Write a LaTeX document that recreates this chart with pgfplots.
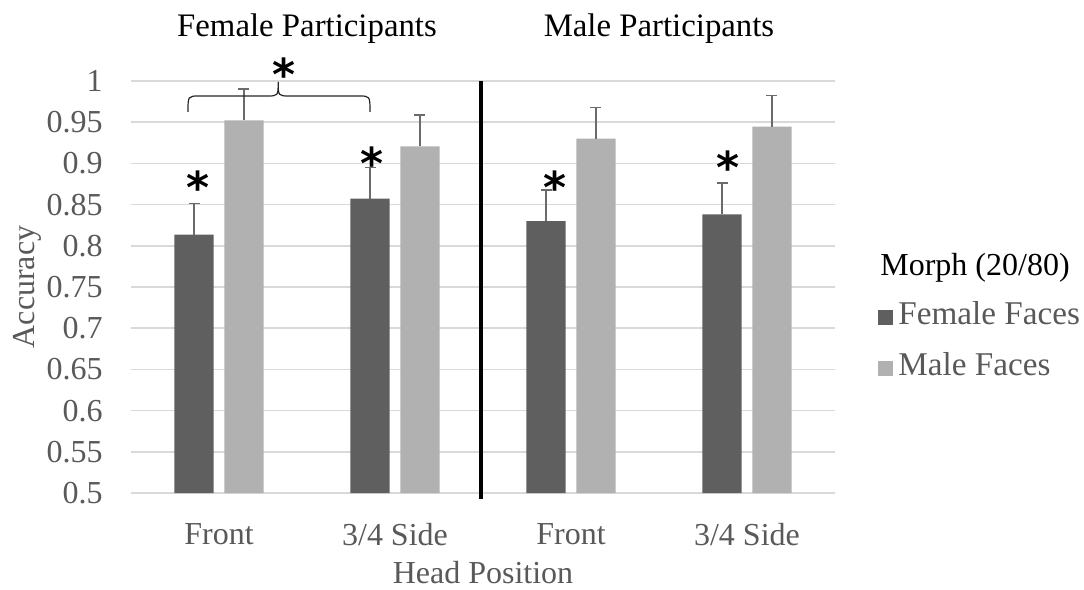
\documentclass[border=0pt]{standalone}
\usepackage{fontspec}
\setmainfont{Liberation Serif}
\newfontfamily\astfont{DejaVu Sans}
\usepackage{pgfplots}
\usepackage{pgfplotstable}
\pgfplotsset{compat=1.18}
\definecolor{darkbar}{HTML}{5F5F5F}
\definecolor{lightbar}{HTML}{B1B1B1}
\definecolor{gridc}{HTML}{D9D9D9}
\definecolor{txtc}{HTML}{595959}
\definecolor{errc}{HTML}{6B6B6B}

\pgfplotstableread{
x f ef m em
0 0.8135 0.038 0.9523 0.038
1 0.8572 0.038 0.9208 0.038
2 0.8300 0.038 0.9300 0.038
3 0.8382 0.038 0.9446 0.038
}\datatable

\begin{document}
\fontsize{16}{19}\selectfont%
\begin{tikzpicture}
\useasboundingbox (-65.5pt,-48.5pt) rectangle (476.5pt,246.5pt);
\begin{axis}[
  at={(0pt,0pt)}, anchor=south west,
  scale only axis, width=352pt, height=206pt,
  xmin=-0.5, xmax=3.5, ymin=0.5, ymax=1,
  axis line style={draw=none},
  ymajorgrids, grid style={gridc, line width=0.75pt},
  major tick length=0pt,
  xtick={0,1,2,3}, xticklabels={Front,3/4 Side,Front,3/4 Side},
  ytick={0.5,0.55,0.6,0.65,0.7,0.75,0.8,0.85,0.9,0.95,1},
  yticklabels={0.5,0.55,0.6,0.65,0.7,0.75,0.8,0.85,0.9,0.95,1},
  tick label style={text=txtc, inner sep=0pt},
  yticklabel style={anchor=east, xshift=-14pt},
  xticklabel style={anchor=north, yshift=-15pt},
  xlabel={Head Position}, ylabel={Accuracy},
  label style={text=txtc, inner sep=0pt},
  xlabel style={at={([yshift=-40pt]axis description cs:0.5,0)}, anchor=center},
  ylabel style={at={([xshift=-52pt]axis description cs:0,0.5)}, anchor=center},
  ybar, bar width=0.222,
  legend style={draw=none, fill=none, at={(1.0611,0.4623)}, anchor=north west,
    text=txtc, row sep=11pt, column sep=2.5pt, inner sep=0pt,
    font=\fontsize{16.6}{19}\selectfont,
    nodes={inner sep=0pt, text height=11pt, text depth=3.5pt}},
  legend cell align=left,
  legend image code/.code={\fill[#1,/tikz/.cd,draw=none] (0pt,-3.75pt) rectangle (7.5pt,3.75pt);},
]
\addplot[fill=darkbar, draw=none, bar shift=-0.142,
  error bars/.cd, y dir=plus, y explicit,
  error bar style={draw=errc, line width=0.75pt},
  error mark=-,
  error mark options={rotate=90, draw=errc, line width=0.75pt, mark size=2.75pt}]
  table[x=x, y=f, y error=ef] {\datatable};
\addlegendentry{Female Faces}
\addplot[fill=lightbar, draw=none, bar shift=0.142,
  error bars/.cd, y dir=plus, y explicit,
  error bar style={draw=errc, line width=0.75pt},
  error mark=-,
  error mark options={rotate=90, draw=errc, line width=0.75pt, mark size=2.75pt}]
  table[x=x, y=m, y error=em] {\datatable};
\addlegendentry{Male Faces}
\coordinate (a1) at (axis cs:-0.121,0.891);
\coordinate (a2) at (axis cs:0.8676,0.921);
\coordinate (a3) at (axis cs:1.909,0.892);
\coordinate (a4) at (axis cs:2.892,0.916);
\coordinate (a5) at (axis cs:0.369,1.028);
\coordinate (vt) at (axis cs:1.489,1);
\coordinate (vb) at (axis cs:1.489,0.4927);
\coordinate (t1) at (axis cs:0.5,1.064);
\coordinate (t2) at (axis cs:2.5,1.064);
\coordinate (lt) at (rel axis cs:1.0639,0.546);
\end{axis}
\draw[line width=2pt, black] (vt) -- (vb);
\draw[line width=0.6pt, black!85] (28.5pt,190.6pt) .. controls (28.5pt,198.5pt) .. (34pt,198.5pt)
  -- (68pt,198.5pt) .. controls (73.6pt,198.5pt) .. (73.6pt,205.6pt)
  .. controls (73.6pt,198.5pt) .. (79.2pt,198.5pt) -- (114pt,198.5pt)
  .. controls (119.5pt,198.5pt) .. (119.5pt,190.6pt);
\foreach \p in {a1,a2,a3,a4,a5}
  \node[anchor=north, inner sep=0pt, font=\astfont\bfseries\fontsize{22}{26}\selectfont] at (\p) {*};
\node[text=black, font=\fontsize{16.4}{19}\selectfont] at (t1) {Female Participants};
\node[text=black, font=\fontsize{16.4}{19}\selectfont] at (t2) {Male Participants};
\node[anchor=west, inner sep=0pt, text=black, font=\fontsize{16}{19}\selectfont] at (lt) {Morph (20/80)};
\end{tikzpicture}
\end{document}
